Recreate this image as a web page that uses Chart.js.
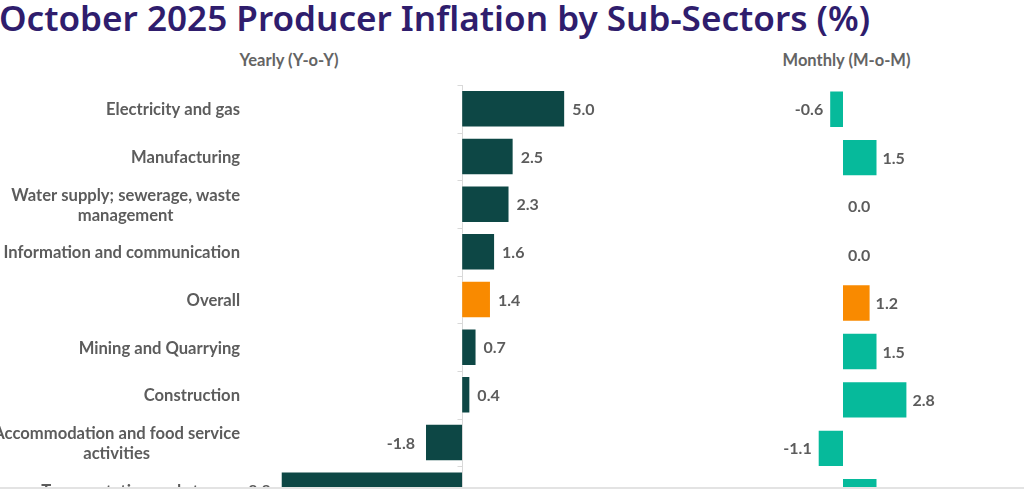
<!DOCTYPE html>
<html><head><meta charset="utf-8">
<script src="https://cdn.jsdelivr.net/npm/chart.js@4.4.0/dist/chart.umd.min.js"></script>
<style>
html,body{margin:0;padding:0;width:1024px;height:489px;overflow:hidden;background:#fff;position:relative}
#title{position:absolute;left:-1px;top:-5px;font-family:'Noto Sans','Open Sans';font-weight:600;font-size:34px;line-height:46px;color:#2F1D6D;white-space:nowrap;transform-origin:0 0}
.sub{position:absolute;top:50px;font-family:Lato;font-weight:bold;font-size:16.5px;line-height:20px;color:#646464;white-space:nowrap;transform:translateX(-50%)}
#c1wrap{position:absolute;left:-60px;top:85.3px;width:687px;height:429px}
#c2wrap{position:absolute;left:760px;top:84.8px;width:260px;height:436px}
#bottomline{position:absolute;left:0;top:487px;width:1024px;height:2px;background:#e3e3e3;z-index:5}
</style>
</head><body>
<div id="title">October 2025 Producer Inflation by Sub-Sectors (%)</div>
<div class="sub" style="left:289px">Yearly (Y-o-Y)</div>
<div class="sub" style="left:846.5px">Monthly (M-o-M)</div>
<div id="c1wrap"><canvas id="c1"></canvas></div>
<div id="c2wrap"><canvas id="c2"></canvas></div>
<div id="bottomline"></div>
<script>
const categories = [
  'Electricity and gas',
  'Manufacturing',
  ['Water supply; sewerage, waste', 'management'],
  'Information and communication',
  'Overall',
  'Mining and Quarrying',
  'Construction',
  ['Accommodation and food service', 'activities'],
  'Transportation and storage'
];
const yearly = [5.0, 2.5, 2.3, 1.6, 1.4, 0.7, 0.4, -1.8, -8.8];
const monthly = [-0.6, 1.5, 0.0, 0.0, 1.2, 1.5, 2.8, -1.1, 1.5];
const highlightCategory = 'Overall';

const DARK = '#0D4745', TEAL = '#06BA9B', ORANGE = '#F98A00';
const LABEL_COLOR = '#5c5c5c';

// fit title width
(function(){
  const t = document.getElementById('title');
  const w = t.getBoundingClientRect().width;
  t.style.transform = 'scaleX(' + (871 / w) + ')';
})();

const labelText = c => Array.isArray(c) ? c.join(' ') : c;
const barColors = (base) => categories.map(c => labelText(c) === highlightCategory ? ORANGE : base);

function valueLabels(gapPos, gapNeg) {
  return {
    id: 'valueLabels',
    afterDatasetsDraw(chart) {
      const ctx = chart.ctx, meta = chart.getDatasetMeta(0), data = chart.data.datasets[0].data;
      const xs = chart.scales.x;
      ctx.save();
      ctx.font = 'bold 16px Lato';
      ctx.fillStyle = LABEL_COLOR;
      ctx.textBaseline = 'middle';
      meta.data.forEach((bar, i) => {
        const v = data[i];
        const end = xs.getPixelForValue(v);
        if (v < 0) { ctx.textAlign = 'right'; ctx.fillText(v.toFixed(1), end - gapNeg, bar.y + 1); }
        else { ctx.textAlign = 'left'; ctx.fillText(v.toFixed(1), end + gapPos, bar.y + 1); }
      });
      ctx.restore();
    }
  };
}

const categoryLabels = {
  id: 'categoryLabels',
  afterDraw(chart) {
    const ctx = chart.ctx, ys = chart.scales.y;
    const right = chart.chartArea.left - 16;
    const lh = 20;
    ctx.save();
    ctx.font = 'bold 16.6px Lato';
    ctx.fillStyle = LABEL_COLOR;
    ctx.textBaseline = 'middle';
    ctx.textAlign = 'center';
    categories.forEach((c, i) => {
      const lines = Array.isArray(c) ? c : [c];
      const w = Math.max(...lines.map(l => ctx.measureText(l).width));
      const cx = right - w / 2;
      const y0 = ys.getPixelForValue(i) + 1 - (lines.length - 1) * lh / 2;
      lines.forEach((l, j) => ctx.fillText(l, cx, y0 + j * lh));
    });
    ctx.restore();
  }
};

const zeroAxis = {
  id: 'zeroAxis',
  beforeDatasetsDraw(chart) {
    const ctx = chart.ctx, xs = chart.scales.x, ys = chart.scales.y, ca = chart.chartArea;
    const x0 = Math.round(xs.getPixelForValue(0)) + 0.5;
    const step = ys.getPixelForValue(1) - ys.getPixelForValue(0);
    ctx.save();
    ctx.strokeStyle = '#d9d9d9';
    ctx.lineWidth = 1;
    ctx.beginPath();
    ctx.moveTo(x0, ca.top); ctx.lineTo(x0, ca.bottom);
    for (let i = 0; i <= categories.length; i++) {
      const y = Math.round(ys.getPixelForValue(i) - step / 2) + 0.5;
      ctx.moveTo(x0 - 5, y); ctx.lineTo(x0, y);
    }
    ctx.stroke();
    ctx.restore();
  }
};

function makeChart(id, values, base, min, max, padLeft, padRight, pct, plugins) {
  return new Chart(document.getElementById(id), {
    type: 'bar',
    data: {
      labels: categories.map(labelText),
      datasets: [{
        data: values,
        backgroundColor: barColors(base),
        borderColor: 'rgba(255,255,255,0.45)',
        borderWidth: 1,
        categoryPercentage: pct,
        barPercentage: 1.0
      }]
    },
    options: {
      indexAxis: 'y',
      responsive: true,
      maintainAspectRatio: false,
      animation: false,
      layout: { padding: { left: padLeft, right: padRight, top: 0, bottom: 0 } },
      plugins: { legend: { display: false }, tooltip: { enabled: false }, title: { display: false } },
      scales: {
        x: { type: 'linear', min: min, max: max, display: false },
        y: { type: 'category', display: false, offset: true }
      }
    },
    plugins: plugins
  });
}

makeChart('c1', yearly, DARK, -10, 8, 316, 0, 0.787, [zeroAxis, valueLabels(7, 10), categoryLabels]);
makeChart('c2', monthly, TEAL, -3, 5, 14, 62, 0.772, [valueLabels(5, 6)]);
</script>
</body></html>
